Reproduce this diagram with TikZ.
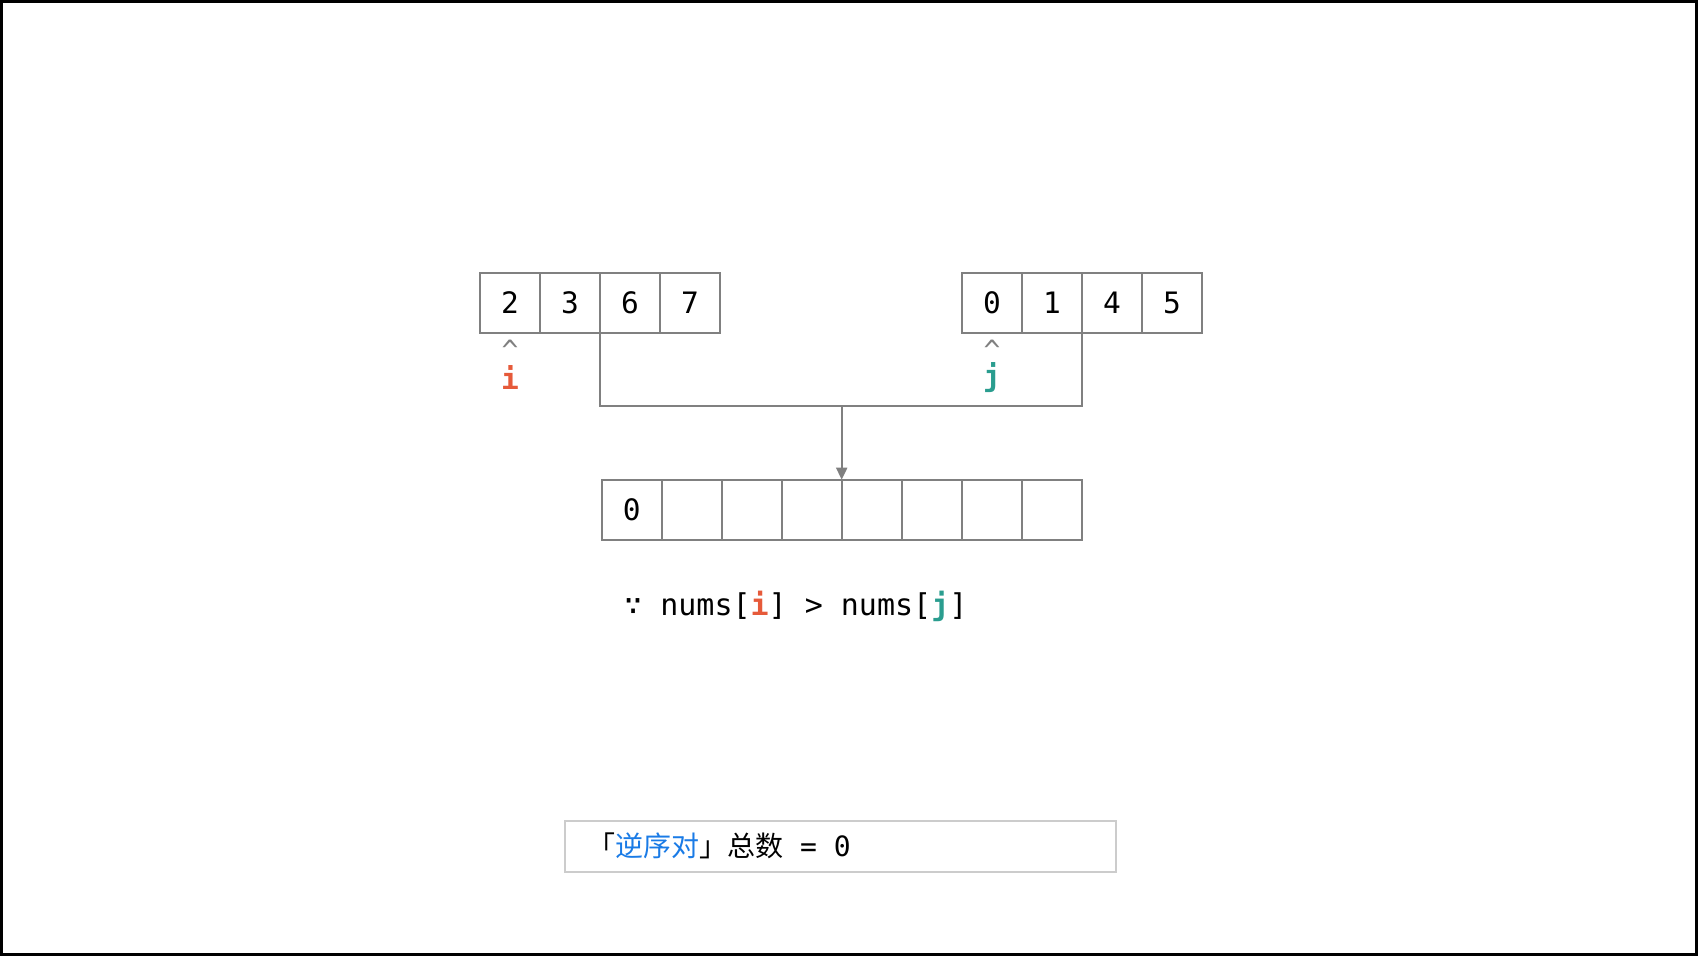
\documentclass[tikz,border=0pt]{standalone}
\usepackage{fontspec}
\setmonofont{DejaVu Sans Mono}
\newfontfamily\cjk{Noto Sans CJK SC}
\usetikzlibrary{arrows.meta}
\definecolor{linegray}{HTML}{808080}
\definecolor{boxgray}{HTML}{CCCCCC}
\definecolor{ired}{HTML}{E65A3A}
\definecolor{jteal}{HTML}{2A9D8F}
\definecolor{cblue}{HTML}{1A7BE6}
\tikzset{
  cell/.style={draw=linegray, line width=2pt, minimum size=60pt, inner sep=0pt, outer sep=0pt, font=\ttfamily\fontsize{29.5}{30}\selectfont},
  conn/.style={draw=linegray, line width=2pt},
  caret/.style={text=linegray, inner sep=0pt, font=\ttfamily\fontsize{28}{28}\selectfont},
  ptr/.style={inner sep=0pt, font=\ttfamily\bfseries\fontsize{29.5}{30}\selectfont},
  txt/.style={inner sep=0pt, font=\ttfamily\fontsize{30}{30}\selectfont},
}
\begin{document}
\begin{tikzpicture}[x=1pt,y=-1pt]
\useasboundingbox (0,0) rectangle (1698,956);
\draw[line width=3pt] (1.5,1.5) rectangle (1696.5,954.5);
% left array
\foreach \v [count=\k] in {2,3,6,7}
  \node[cell] (a\k) at ({480+60*\k-30},303) {\v};
% right array
\foreach \v [count=\k] in {0,1,4,5}
  \node[cell] (b\k) at ({962+60*\k-30},303) {\v};
% merged array
\node[cell] (c1) at (631.7,509.7) {0};
\foreach \k in {2,...,8}
  \node[cell] (c\k) at ({601.7+60*\k-30},509.7) {};
% pointers
\node[caret] (ci) at (510,350) {\^{}};
\node[ptr, text=ired] (pi) at (510,378) {i};
\node[caret] (cj) at (992,350) {\^{}};
\node[ptr, text=jteal] (pj) at (992,378) {j};
% connectors
\coordinate (m) at (c5.north west |- 0,406);
\draw[conn] (a3.south west) |- (m);
\draw[conn] (b3.south west) |- (m);
\draw[conn, -{Triangle[length=12pt,width=11pt]}] (m) -- (c5.north west);
% condition
\node[txt, anchor=west] (cond) at (624,606) {∵ nums[\textbf{\color{ired}i}] > nums[\textbf{\color{jteal}j}]};
% total box
\node[draw=boxgray, line width=2pt, minimum width=551pt, minimum height=51pt, inner sep=0pt] (box) at (840.5,846.5) {};
\node[inner sep=0pt, anchor=west] (total) at (587,846) {{\cjk\fontsize{28}{28}\selectfont 「\textcolor{cblue}{逆序对}」总数}{\ttfamily\fontsize{28}{28}\selectfont{} = 0}};
\end{tikzpicture}
\end{document}
